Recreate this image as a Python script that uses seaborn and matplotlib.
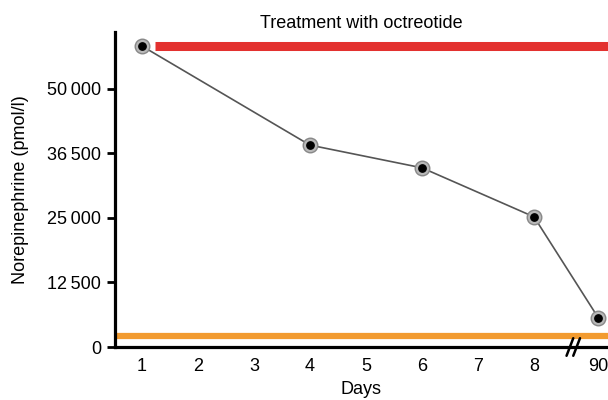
import matplotlib
matplotlib.use('Agg')
import matplotlib.pyplot as plt
import seaborn as sns
import pandas as pd

# data
days = ['1', '4', '6', '8', '90']
day_pos = [1, 4, 6, 8, 9.15]          # 90 sits past the axis break
norepinephrine = [58300, 39100, 34700, 25200, 5600]
xtick_pos = [1, 2, 3, 4, 5, 6, 7, 8, 9.15]
xtick_labels = ['1', '2', '3', '4', '5', '6', '7', '8', '90']
ytick_pos = [0, 12500, 25000, 37500, 50000]
ytick_labels = ['0', '12\u2009500', '25\u2009000', '36\u2009500', '50\u2009000']
treatment_level = 58300
reference_level = 2100

sns.set_style('white')
plt.rcParams['font.family'] = ['Liberation Sans', 'DejaVu Sans']
plt.rcParams['text.color'] = 'black'
plt.rcParams['axes.labelcolor'] = 'black'
plt.rcParams['xtick.color'] = 'black'
plt.rcParams['ytick.color'] = 'black'

df = pd.DataFrame({'pos': day_pos, 'value': norepinephrine, 'day': days})

fig = plt.figure(figsize=(6.08, 4), dpi=100)
ax = fig.add_axes([0.189, 0.1325, 0.811, 0.7875])

ax.hlines(treatment_level, 1.23, 9.4, color='#e3312f', lw=6.5, zorder=1)
ax.hlines(reference_level, 0.5, 9.4, color='#f29b30', lw=4.5, zorder=1)

sns.lineplot(data=df, x='pos', y='value', color='#555555', lw=1.2, ax=ax, zorder=2)
ax.scatter(df.pos, df.value, s=110, color='#b8b8b8', edgecolor='#888888', lw=1, zorder=3, clip_on=False)
ax.scatter(df.pos, df.value, s=28, color='black', zorder=4, clip_on=False)

ax.set_xlim(0.52, 9.32)
ax.set_ylim(0, 61000)
ax.set_xticks(xtick_pos)
ax.set_xticklabels(xtick_labels, fontsize=13)
ax.set_yticks(ytick_pos)
ax.set_yticklabels(ytick_labels, fontsize=13)
ax.tick_params(axis='x', length=0, pad=8)
ax.tick_params(axis='y', length=6, width=2, color='black', pad=4, left=True)

for s in ['top', 'right']:
    ax.spines[s].set_visible(False)
for s in ['left', 'bottom']:
    ax.spines[s].set_linewidth(2.3)
    ax.spines[s].set_color('black')

ax.set_xlabel('Days', fontsize=13, labelpad=4)
ax.set_ylabel('Norepinephrine (pmol/l)', fontsize=13, labelpad=13)
ax.set_title('Treatment with octreotide', fontsize=13, pad=3)

# axis break mark
for dx in (-0.06, 0.06):
    x0 = 8.7 + dx
    ax.plot([x0 - 0.06, x0 + 0.06], [-1700, 1700], color='black', lw=1.8, clip_on=False, zorder=5)

fig.savefig('out.png', dpi=100)
